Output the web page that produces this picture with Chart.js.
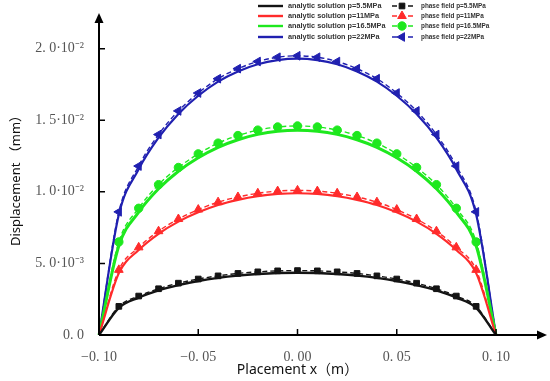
<!DOCTYPE html>
<html>
<head>
<meta charset="utf-8">
<script src="https://cdn.jsdelivr.net/npm/chart.js@4/dist/chart.umd.min.js"></script>
<style>
  html, body { margin: 0; padding: 0; background: #fff; }
  #wrap { width: 550px; height: 381px; position: relative; }
</style>
</head>
<body>
<div id="wrap"><canvas id="chart"></canvas></div>
<script>
// x positions along the crack (m)
const xs = [-0.10, -0.09, -0.08, -0.07, -0.06, -0.05, -0.04, -0.03, -0.02, -0.01, 0.00,
            0.01, 0.02, 0.03, 0.04, 0.05, 0.06, 0.07, 0.08, 0.09, 0.10];

// displacement (mm)
const analytic55 = [0, 1.90e-3, 2.61e-3, 3.11e-3, 3.48e-3, 3.77e-3, 3.99e-3, 4.15e-3, 4.26e-3, 4.33e-3, 4.35e-3,
                    4.33e-3, 4.26e-3, 4.15e-3, 3.99e-3, 3.77e-3, 3.48e-3, 3.11e-3, 2.61e-3, 1.90e-3, 0];
const analytic11 = [0, 4.32e-3, 5.94e-3, 7.07e-3, 7.92e-3, 8.57e-3, 9.08e-3, 9.44e-3, 9.70e-3, 9.85e-3, 9.90e-3,
                    9.85e-3, 9.70e-3, 9.44e-3, 9.08e-3, 8.57e-3, 7.92e-3, 7.07e-3, 5.94e-3, 4.32e-3, 0];
const analytic165 = [0, 6.23e-3, 8.58e-3, 10.21e-3, 11.44e-3, 12.38e-3, 13.11e-3, 13.64e-3, 14.01e-3, 14.23e-3, 14.30e-3,
                     14.23e-3, 14.01e-3, 13.64e-3, 13.11e-3, 12.38e-3, 11.44e-3, 10.21e-3, 8.58e-3, 6.23e-3, 0];
const analytic22 = [0, 8.41e-3, 11.58e-3, 13.78e-3, 15.44e-3, 16.71e-3, 17.70e-3, 18.41e-3, 18.91e-3, 19.20e-3, 19.30e-3,
                    19.20e-3, 18.91e-3, 18.41e-3, 17.70e-3, 16.71e-3, 15.44e-3, 13.78e-3, 11.58e-3, 8.41e-3, 0];

const phase55 = [0, 2.00e-3, 2.72e-3, 3.23e-3, 3.62e-3, 3.91e-3, 4.13e-3, 4.30e-3, 4.41e-3, 4.48e-3, 4.50e-3,
                 4.48e-3, 4.41e-3, 4.30e-3, 4.13e-3, 3.91e-3, 3.62e-3, 3.23e-3, 2.72e-3, 2.00e-3, 0];
const phase11 = [0, 4.55e-3, 6.12e-3, 7.25e-3, 8.10e-3, 8.76e-3, 9.28e-3, 9.64e-3, 9.90e-3, 10.05e-3, 10.10e-3,
                 10.05e-3, 9.90e-3, 9.64e-3, 9.28e-3, 8.76e-3, 8.10e-3, 7.25e-3, 6.12e-3, 4.55e-3, 0];
const phase165 = [0, 6.50e-3, 8.85e-3, 10.50e-3, 11.70e-3, 12.65e-3, 13.40e-3, 13.93e-3, 14.31e-3, 14.53e-3, 14.60e-3,
                  14.53e-3, 14.31e-3, 13.93e-3, 13.40e-3, 12.65e-3, 11.70e-3, 10.50e-3, 8.85e-3, 6.50e-3, 0];
const phase22 = [0, 8.60e-3, 11.80e-3, 14.00e-3, 15.65e-3, 16.90e-3, 17.90e-3, 18.60e-3, 19.10e-3, 19.40e-3, 19.50e-3,
                 19.40e-3, 19.10e-3, 18.60e-3, 17.90e-3, 16.90e-3, 15.65e-3, 14.00e-3, 11.80e-3, 8.60e-3, 0];

const xTicks = [-0.10, -0.05, 0.00, 0.05, 0.10];
const xTickLabels = ['\u22120. 10', '\u22120. 05', '0. 00', '0. 05', '0. 10'];
const yTicks = [0, 0.005, 0.010, 0.015, 0.020];
const yTickLabels = ['0. 0', '5. 0\u00b710\u207b\u00b3', '1. 0\u00b710\u207b\u00b2', '1. 5\u00b710\u207b\u00b2', '2. 0\u00b710\u207b\u00b2'];

const toPts = arr => xs.map((x, i) => ({ x: x, y: arr[i] }));

const BLACK = '#141414', RED = '#ff2b2b', GREEN = '#1ee81e', BLUE = '#2020b0';

function analytic(label, arr, color, w) {
    return {
        label: label, data: toPts(arr), borderColor: color, backgroundColor: color,
        borderWidth: w, pointRadius: 0, cubicInterpolationMode: 'monotone', clip: false, kind: 'a'
    };
}
function phase(label, arr, color, style, rot, r) {
    return {
        label: label, data: toPts(arr), borderColor: color, backgroundColor: color,
        borderWidth: 1.4, borderDash: [5, 3], pointStyle: style, pointRotation: rot,
        // no marker on the crack tips
        pointRadius: ctx => (ctx.dataIndex === 0 || ctx.dataIndex === xs.length - 1) ? 0 : r,
        legendRadius: r,
        pointBorderWidth: 1, cubicInterpolationMode: 'monotone', clip: false, kind: 'p'
    };
}

const datasets = [
    analytic('analytic solution p=5.5MPa', analytic55, BLACK, 2.4),
    analytic('analytic solution p=11MPa', analytic11, RED, 2.2),
    analytic('analytic solution p=16.5MPa', analytic165, GREEN, 3),
    analytic('analytic solution p=22MPa', analytic22, BLUE, 2.2),
    phase('phase field p=5.5MPa', phase55, BLACK, 'rect', 0, 4),
    phase('phase field p=11MPa', phase11, RED, 'triangle', 0, 5),
    phase('phase field p=16.5MPa', phase165, GREEN, 'circle', 0, 4.2),
    phase('phase field p=22MPa', phase22, BLUE, 'triangle', 270, 5)
];

// axes with arrows, inward ticks, and the two-column legend
const decor = {
    id: 'decor',
    afterDraw(chart) {
        const ctx = chart.ctx;
        const a = chart.chartArea;
        const xs_ = chart.scales.x, ys_ = chart.scales.y;
        ctx.save();
        ctx.strokeStyle = '#000';
        ctx.fillStyle = '#000';
        ctx.lineWidth = 2;
        ctx.beginPath();
        ctx.moveTo(a.left, a.bottom); ctx.lineTo(a.left, 16);
        ctx.moveTo(a.left, a.bottom); ctx.lineTo(538, a.bottom);
        ctx.stroke();
        // arrow heads
        ctx.beginPath();
        ctx.moveTo(a.left, 13); ctx.lineTo(a.left - 4.5, 23); ctx.lineTo(a.left + 4.5, 23); ctx.closePath();
        ctx.fill();
        ctx.beginPath();
        ctx.moveTo(547, a.bottom); ctx.lineTo(537, a.bottom - 4.5); ctx.lineTo(537, a.bottom + 4.5); ctx.closePath();
        ctx.fill();
        // inward ticks
        ctx.lineWidth = 1.5;
        ctx.beginPath();
        yTicks.forEach(v => {
            const p = ys_.getPixelForValue(v);
            if (v !== 0) { ctx.moveTo(a.left, p); ctx.lineTo(a.left + 6, p); }
        });
        xTicks.forEach(v => {
            const p = xs_.getPixelForValue(v);
            if (v !== -0.10) { ctx.moveTo(p, a.bottom); ctx.lineTo(p, a.bottom - 6); }
        });
        ctx.stroke();

        // legend
        const rows = [6, 16, 26, 37];
        ctx.textBaseline = 'middle';
        ctx.textAlign = 'left';
        chart.data.datasets.forEach((ds, i) => {
            const row = rows[i % 4];
            if (ds.kind === 'a') {
                ctx.strokeStyle = ds.borderColor;
                ctx.lineWidth = 2.4;
                ctx.setLineDash([]);
                ctx.beginPath(); ctx.moveTo(258, row); ctx.lineTo(283, row); ctx.stroke();
                ctx.fillStyle = '#333';
                ctx.font = 'bold 7.3px "Liberation Sans", sans-serif';
                ctx.fillText(ds.label, 288, row);
            } else {
                ctx.strokeStyle = ds.borderColor;
                ctx.lineWidth = 1.6;
                ctx.setLineDash([5, 3]);
                ctx.beginPath(); ctx.moveTo(392, row); ctx.lineTo(413, row); ctx.stroke();
                ctx.setLineDash([]);
                ctx.fillStyle = ds.borderColor;
                ctx.strokeStyle = ds.borderColor;
                ctx.lineWidth = 1;
                Chart.helpers.drawPoint(ctx, {
                    pointStyle: ds.pointStyle, rotation: ds.pointRotation, radius: ds.legendRadius,
                    borderWidth: 1
                }, 402, row);
                ctx.fillStyle = '#333';
                ctx.font = 'bold 6.4px "Liberation Sans Narrow", "Liberation Sans", sans-serif';
                ctx.fillText(ds.label, 421, row);
            }
        });
        ctx.restore();
    }
};

new Chart(document.getElementById('chart'), {
    type: 'line',
    data: { datasets: datasets },
    options: {
        responsive: true,
        maintainAspectRatio: false,
        animation: false,
        layout: { autoPadding: false, padding: { left: 0, top: 20, right: 54, bottom: 0 } },
        plugins: { legend: { display: false }, tooltip: { enabled: false } },
        scales: {
            x: {
                type: 'linear', min: -0.10, max: 0.10,
                grid: { display: false }, border: { display: false },
                afterBuildTicks: s => { s.ticks = xTicks.map(v => ({ value: v })); },
                afterFit: s => { s.height = 46; },
                ticks: {
                    padding: 6, color: '#555', maxRotation: 0,
                    font: { family: '"Liberation Serif", serif', size: 14 },
                    callback: v => xTickLabels[xTicks.findIndex(t => Math.abs(t - v) < 1e-9)]
                },
                title: {
                    display: true, text: 'Placement x\uff08m\uff09', color: '#111',
                    font: { family: '"Noto Sans", "Noto Sans CJK SC", sans-serif', size: 14 },
                    padding: { top: 2, bottom: 3 }
                }
            },
            y: {
                type: 'linear', min: 0, max: 0.022,
                grid: { display: false }, border: { display: false },
                afterBuildTicks: s => { s.ticks = yTicks.map(v => ({ value: v })); },
                afterFit: s => { s.width = 99; },
                ticks: {
                    padding: 7, color: '#555',
                    font: { family: '"Liberation Serif", serif', size: 14 },
                    callback: v => yTickLabels[yTicks.findIndex(t => Math.abs(t - v) < 1e-9)]
                },
                title: {
                    display: true, text: 'Displacement \uff08mm\uff09', color: '#111',
                    font: { family: '"Noto Sans", "Noto Sans CJK SC", sans-serif', size: 13 },
                    padding: { top: 8, bottom: 4 }
                }
            }
        }
    },
    plugins: [decor]
});
</script>
</body>
</html>
